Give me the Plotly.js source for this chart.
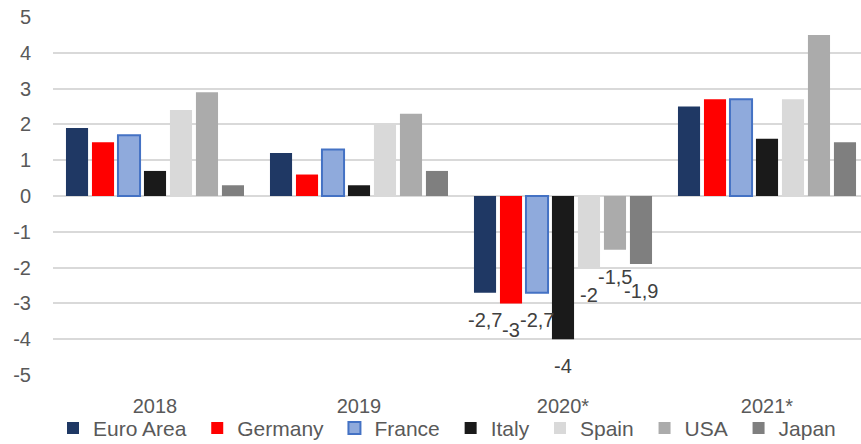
<!DOCTYPE html>
<html>
<head>
<meta charset="utf-8">
<script src="https://cdn.plot.ly/plotly-3.0.1.min.js"></script>
<style>
  html, body { margin: 0; padding: 0; overflow: hidden; background: #fff; }
  #chart { width: 880px; height: 444px; }
</style>
</head>
<body>
<div id="chart"></div>
<script>
const categories = ['2018', '2019', '2020*', '2021*'];
const seriesNames = ['Euro Area', 'Germany', 'France', 'Italy', 'Spain', 'USA', 'Japan'];
const euroArea = [1.9, 1.2, -2.7, 2.5];
const germany  = [1.5, 0.6, -3.0, 2.7];
const france   = [1.7, 1.3, -2.7, 2.7];
const italy    = [0.7, 0.3, -4.0, 1.6];
const spain    = [2.4, 2.0, -2.0, 2.7];
const usa      = [2.9, 2.3, -1.5, 4.5];
const japan    = [0.3, 0.7, -1.9, 1.5];
const yTicks   = [5, 4, 3, 2, 1, 0, -1, -2, -3, -4, -5];
const labelledCategory = '2020*';

const seriesValues = [euroArea, germany, france, italy, spain, usa, japan];
const fills = ['#1F3864', '#FF0000', '#8FAADC', '#1A1A1A', '#D9D9D9', '#ABABAB', '#7F7F7F'];
const lines = [null, null, '#4472C4', null, null, null, null];

const FONT = '"Liberation Sans", Arial, sans-serif';
const BARGAP = 0.108;

const traces = seriesNames.map((name, i) => ({
  type: 'bar',
  name: name + '\u00a0',
  x: categories,
  y: seriesValues[i],
  marker: {
    color: fills[i],
    line: lines[i] ? { color: lines[i], width: 2 } : { width: 0 }
  },
  hovertemplate: name + ': %{y}<extra></extra>'
}));

// data labels for the 2020 group
const ci = categories.indexOf(labelledCategory);
const n = seriesNames.length;
const annotations = seriesValues.map((vals, i) => ({
  x: ci + (i - (n - 1) / 2) * (1 - BARGAP) / n,
  y: vals[ci],
  xref: 'x', yref: 'y',
  text: String(vals[ci]).replace('.', ','),
  showarrow: false,
  yanchor: 'middle',
  yshift: -27,
  font: { family: FONT, size: 20, color: '#404040' }
}));

const layout = {
  width: 880, height: 444,
  margin: { l: 53, r: 11, t: 16.5, b: 68.5, autoexpand: false },
  paper_bgcolor: '#ffffff',
  plot_bgcolor: '#ffffff',
  barmode: 'group',
  bargap: BARGAP,
  bargroupgap: 0.15,
  showlegend: true,
  legend: {
    orientation: 'h',
    x: 0.0, xanchor: 'left',
    y: -0.149, yanchor: 'middle',
    bgcolor: 'rgba(0,0,0,0)',
    font: { family: FONT, size: 21, color: '#595959' },
    itemclick: false
  },
  xaxis: {
    type: 'category',
    automargin: false,
    showgrid: false,
    zeroline: false,
    showline: false,
    ticks: 'outside', ticklen: 13, tickcolor: 'rgba(0,0,0,0)',
    tickfont: { family: FONT, size: 20, color: '#595959' }
  },
  yaxis: {
    range: [-5, 5],
    automargin: false,
    tickvals: yTicks,
    ticktext: yTicks.map(String),
    showgrid: true, gridcolor: '#D9D9D9', gridwidth: 1.5,
    zeroline: true, zerolinecolor: '#D9D9D9', zerolinewidth: 1.5,
    showline: false,
    ticks: 'outside', ticklen: 17, tickcolor: 'rgba(0,0,0,0)',
    tickfont: { family: FONT, size: 20, color: '#595959' }
  },
  annotations: annotations,
  font: { family: FONT }
};

Plotly.newPlot('chart', traces, layout, { displayModeBar: false });
</script>
</body>
</html>
